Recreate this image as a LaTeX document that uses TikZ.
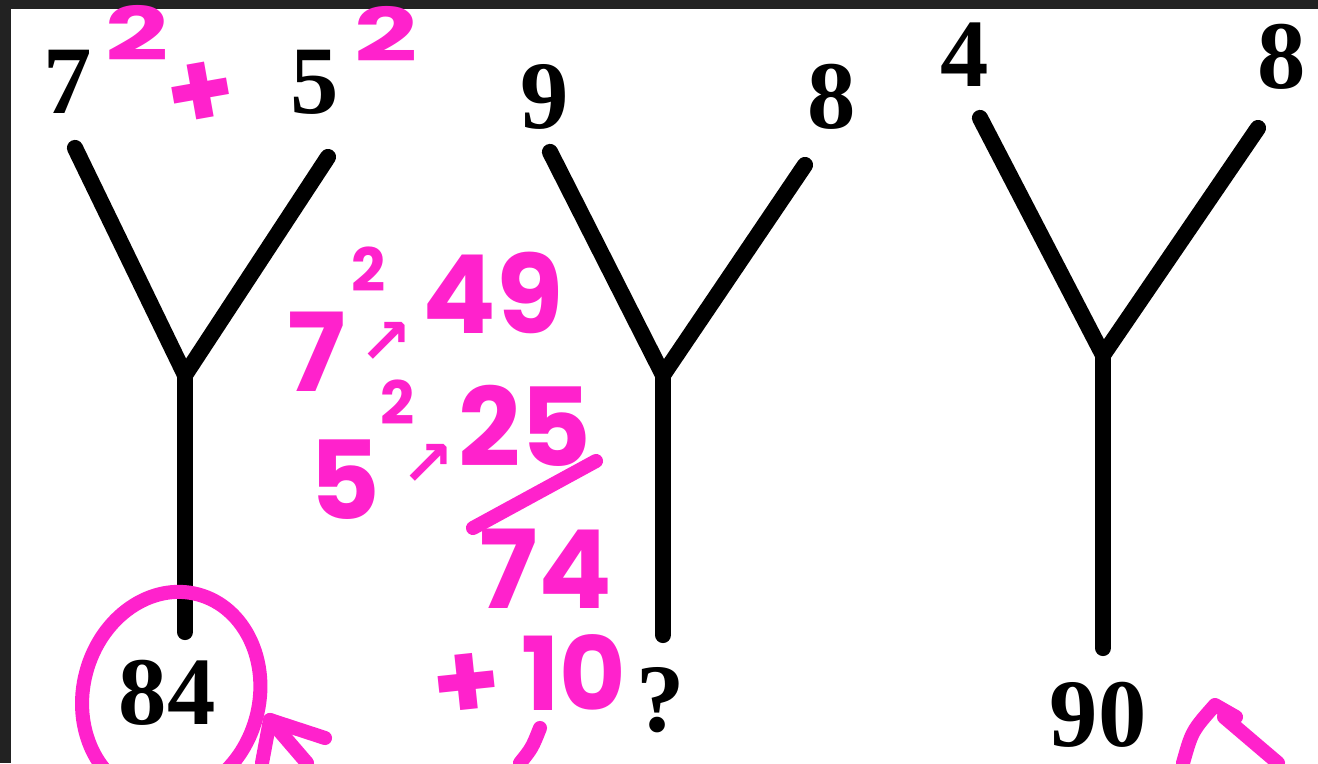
\documentclass[tikz,border=0pt]{standalone}
\usepackage{fontspec}
\usepackage{xcolor}
\usepackage{tikz}
\usetikzlibrary{calc}
\setmainfont{Liberation Serif}
\newfontfamily\handfont{Poppins}
\newfontfamily\symfont{DejaVu Sans}
\definecolor{ink}{RGB}{255,34,204}
\definecolor{frame}{RGB}{34,34,34}
\tikzset{
  limb/.style={line width=4.6pt,line cap=round,line join=round},
  num/.style={inner sep=0pt,font=\fontsize{27.5}{32}\selectfont\bfseries},
  pen/.style={ink,line width=4pt,line cap=round,line join=round},
  hand/.style={ink,inner sep=0pt,font=\fontsize{31}{36}\handfont\bfseries},
  sup/.style={ink,inner sep=0pt,font=\fontsize{17}{21}\handfont\bfseries},
  arr/.style={ink,inner sep=0pt,font=\fontsize{18}{21}\symfont\bfseries}
}

\begin{document}
\begin{tikzpicture}[x=0.01cm,y=0.01cm]
\useasboundingbox (0,0) rectangle (1318,763);
\clip (0,0) rectangle (1318,763);
\fill[white] (0,0) rectangle (1318,763);
\fill[frame] (0,754) rectangle (1318,763);
\fill[frame] (0,0) rectangle (11,763);

% the three Y's
\foreach \i/\ax/\ay/\bx/\by/\jx/\jy/\ey in
  {1/75/615/328/606/185/388/131,2/550/611/805/598/663/388/128,3/980/645/1258/635/1103/408/115}
{
\coordinate (l\i) at (\ax,\ay);
\coordinate (r\i) at (\bx,\by);
\coordinate (j\i) at (\jx,\jy);
\coordinate (e\i) at (\jx,\ey);
\draw[limb] (l\i) -- (j\i) -- (r\i);
\draw[limb] (j\i) -- (e\i);
}

\node[num] (n7) at (68,681) {7};
\node[num] (n5) at (315,681) {5};
\node[num] (n9) at (545,666) {9};
\node[num] (n8a) at (832,666) {8};
\node[num] (n4) at (965,708) {4};
\node[num] (n8b) at (1282,706) {8};
\node[num] (n84) at (167,70) {84};
\node[num] (nq) at (661,63) {?};
\node[num] (n90) at (1098,48) {90};

% pink working
\node[sup,font=\fontsize{21}{25}\handfont\bfseries,xscale=1.5] (s7) at (137,730) {2};
\node[hand,font=\fontsize{31}{36}\handfont\bfseries,rotate=10] (pl) at (201,667) {+};
\node[sup,font=\fontsize{21}{25}\handfont\bfseries,xscale=1.5] (s5) at (386,729) {2};

\node[hand] (h7) at (317,411) {7};
\node[sup] (h7s) at (369,494) {2};
\node[arr] (h7a) at (386,420) {↗};
\node[hand] (h49) at (493,470) {49};

\node[hand] (h5) at (345,283) {5};
\node[sup] (h5s) at (398,361) {2};
\node[arr] (h5a) at (428,298) {↗};
\node[hand] (h25) at (525,337) {25};

\draw[pen] (473,235) -- (596,302);
\node[hand] (h74) at (546,194) {74};
\node[hand,rotate=6] (hp) at (467,76) {+};
\node[hand,font=\fontsize{29}{34}\handfont\bfseries] (h10) at (574,90) {10};

\draw[pen] (540,35) .. controls (532,15) .. (520,0);
\draw[pen,rotate around={-15:(172,71)}] (172,68) ellipse (88 and 104);
\coordinate (t1) at (270,43);
\draw[pen] (325,25) -- (t1) -- (262,0);
\draw[pen] (t1) -- (307,0);
\coordinate (t2) at (1215,58);
\draw[pen] (1183,0) .. controls (1192,32) .. (t2) -- (1236,46);
\draw[pen] (1224,46) -- (1278,0);
\end{tikzpicture}
\end{document}
